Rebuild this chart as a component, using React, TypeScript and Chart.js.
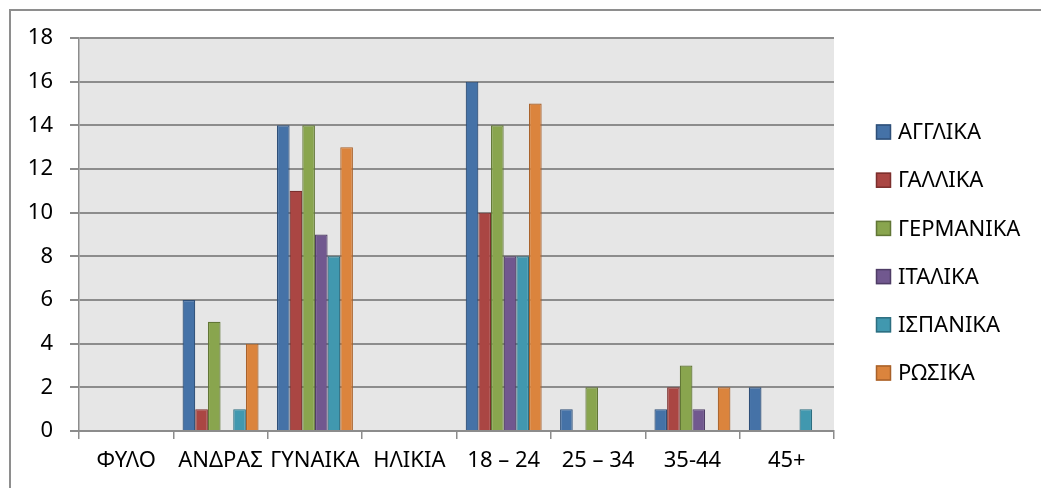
import React, { useEffect, useRef } from "react";
import { Chart, registerables } from "chart.js";

Chart.register(...registerables);

const categories = ["ΦΥΛΟ", "ΑΝΔΡΑΣ", "ΓΥΝΑΙΚΑ", "ΗΛΙΚΙΑ", "18 – 24", "25 – 34", "35-44", "45+"];
const seriesNames = ["ΑΓΓΛΙΚΑ", "ΓΑΛΛΙΚΑ", "ΓΕΡΜΑΝΙΚΑ", "ΙΤΑΛΙΚΑ", "ΙΣΠΑΝΙΚΑ", "ΡΩΣΙΚΑ"];
const english = [0, 6, 14, 0, 16, 1, 1, 2];
const french = [0, 1, 11, 0, 10, 0, 2, 0];
const german = [0, 5, 14, 0, 14, 2, 3, 0];
const italian = [0, 0, 9, 0, 8, 0, 1, 0];
const spanish = [0, 1, 8, 0, 8, 0, 0, 1];
const russian = [0, 4, 13, 0, 15, 0, 2, 0];
const yTicks = [0, 2, 4, 6, 8, 10, 12, 14, 16, 18];

const fills = ["#4572A7", "#AA4643", "#89A54E", "#71588F", "#4198AF", "#DB843D"];
const borders = ["#2E4F78", "#7B2F2D", "#617636", "#4F3D66", "#2D6E80", "#A8612A"];

const FONT = "'Noto Sans', 'Open Sans', sans-serif";
const GRID = "#8c8c8c";
const FS = 22;

export default function App() {
  const ref = useRef<HTMLCanvasElement | null>(null);
  useEffect(() => {
    if (!ref.current) return;
    const values = [english, french, german, italian, spanish, russian];
    const bgPlugin = {
      id: "bg",
      beforeDraw(chart: any) {
        const { ctx, chartArea } = chart;
        ctx.save();
        ctx.fillStyle = "#ffffff";
        ctx.fillRect(0, 0, chart.width, chart.height);
        ctx.strokeStyle = "#8e8e8e";
        ctx.lineWidth = 2;
        ctx.strokeRect(10, 10, chart.width + 20, chart.height + 20);
        ctx.fillStyle = "#e6e6e6";
        ctx.fillRect(chartArea.left, chartArea.top, chartArea.right - chartArea.left, chartArea.bottom - chartArea.top);
        ctx.restore();
      },
      afterDraw(chart: any) {
        const { ctx } = chart;
        ctx.save();
        ctx.font = `${FS}px ${FONT}`;
        ctx.textBaseline = "middle";
        ctx.textAlign = "left";
        chart.data.datasets.forEach((ds: any, i: number) => {
          const y = 132 + i * 48.2;
          ctx.fillStyle = ds.backgroundColor;
          ctx.fillRect(876, y - 7.5, 15, 15);
          ctx.strokeStyle = ds.borderColor;
          ctx.lineWidth = 1.5;
          ctx.strokeRect(876.5, y - 7, 14, 14);
          ctx.fillStyle = "#000000";
          ctx.fillText(ds.label, 898, y + 1);
        });
        ctx.restore();
      },
    };
    const chart = new Chart(ref.current, {
      type: "bar",
      data: {
        labels: categories,
        datasets: seriesNames.map((name, i) => ({
          label: name,
          data: values[i],
          backgroundColor: fills[i],
          borderColor: borders[i],
          borderWidth: 1.2,
          categoryPercentage: 0.805,
          barPercentage: 1,
        })),
      },
      options: {
        responsive: false,
        animation: false,
        layout: { padding: { left: 0, top: 38, right: 207, bottom: 0 } },
        plugins: { legend: { display: false }, tooltip: { enabled: false }, title: { display: false } },
        scales: {
          x: {
            grid: { display: true, drawOnChartArea: false, drawTicks: true, tickLength: 8, color: GRID, lineWidth: 1.5, offset: true },
            border: { display: true, color: GRID, width: 2 },
            ticks: { color: "#000000", font: { family: FONT, size: FS }, padding: 9, maxRotation: 0, autoSkip: false },
            afterFit(scale: any) { scale.height = 57; },
          },
          y: {
            min: 0,
            max: 18,
            afterBuildTicks(scale: any) { scale.ticks = yTicks.map((v) => ({ value: v })); },
            grid: { color: GRID, lineWidth: 2, tickLength: 9 },
            border: { display: true, color: GRID, width: 1.5 },
            ticks: { color: "#000000", font: { family: FONT, size: FS }, padding: 17 },
            afterFit(scale: any) { scale.width = 79; },
          },
        },
      },
      plugins: [bgPlugin],
    } as any);
    return () => chart.destroy();
  }, []);
  return (
    <div style={{ position: "fixed", left: 0, top: 0, width: 1041, height: 488, overflow: "hidden", background: "#fff" }}>
      <canvas ref={ref} width={1041} height={488} style={{ display: "block" }} />
    </div>
  );
}
